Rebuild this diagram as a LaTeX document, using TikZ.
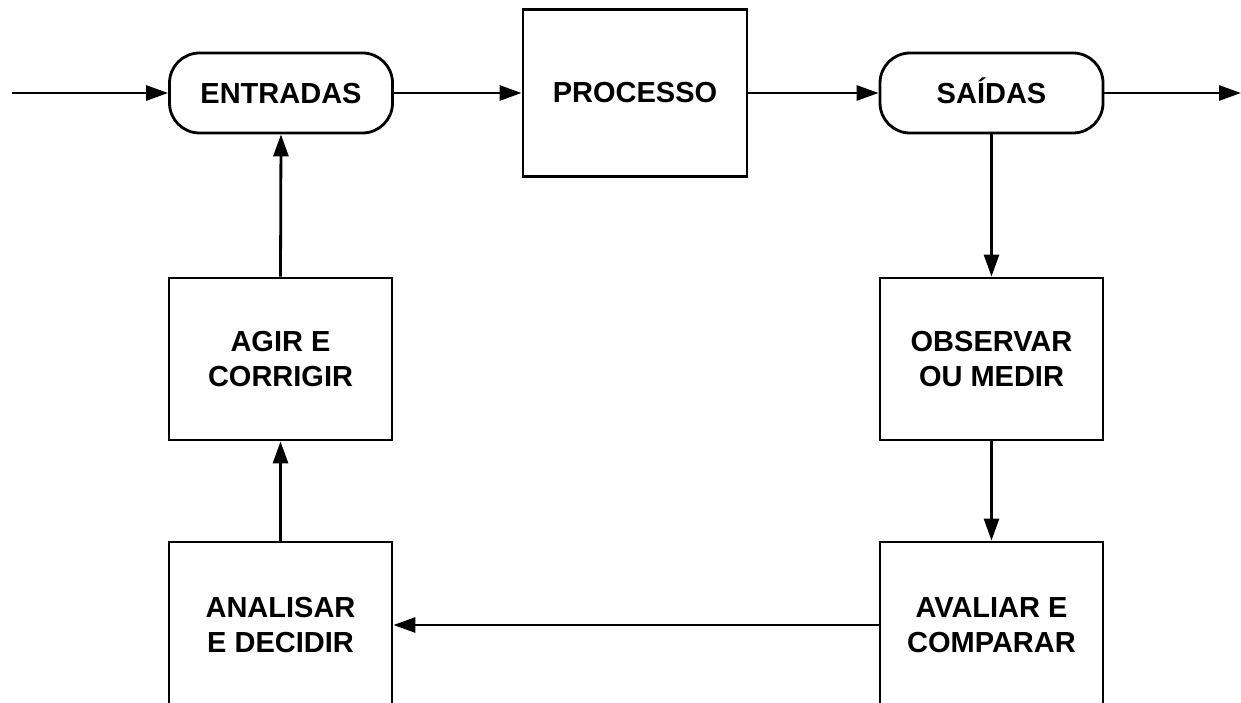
\documentclass[tikz,border=0pt]{standalone}
\usepackage{fontspec}
\setmainfont{Liberation Sans}
\usetikzlibrary{arrows.meta}
\tikzset{
  blockbox/.style={draw, line width=2.8pt, align=center, minimum width=223pt, inner sep=0pt,
    font=\fontsize{29}{35}\selectfont\bfseries},
  termbox/.style={blockbox, rounded corners=30pt, minimum height=80pt, text height=21pt, text depth=0pt},
  conn/.style={line width=2.8pt, -{Triangle[length=22pt,width=15pt]}},
}
\begin{document}
\begin{tikzpicture}[x=1pt,y=-1pt]
\useasboundingbox (0,0) rectangle (1241,703);
\clip (0,0) rectangle (1241,703);
\fill[white] (0,0) rectangle (1241,703);
\node[termbox] (entradas) at (281,93) {ENTRADAS};
\node[blockbox, minimum width=224pt, minimum height=167pt] (processo) at (635,93) {PROCESSO};
\node[termbox] (saidas) at (991.5,93) {SAÍDAS};
\node[blockbox, minimum height=162pt] (observar) at (991.5,359) {OBSERVAR\\OU MEDIR};
\node[blockbox, minimum height=166pt] (avaliar) at (991.5,625) {AVALIAR E\\COMPARAR};
\node[blockbox, minimum height=166pt] (analisar) at (280.5,625) {ANALISAR\\E DECIDIR};
\node[blockbox, minimum height=162pt] (agir) at (280.5,359) {AGIR E\\CORRIGIR};
\coordinate (in) at (12,93);
\coordinate (out) at (1241,93);
\draw[conn] (in) -- (entradas.west);
\draw[conn] (entradas.east) -- (processo.west);
\draw[conn] (processo.east) -- (saidas.west);
\draw[conn] (saidas.east) -- (out);
\draw[conn] (saidas.south) -- (observar.north);
\draw[conn] (observar.south) -- (avaliar.north);
\draw[conn] (avaliar.west) -- (analisar.east);
\draw[conn] (analisar.north) -- (agir.south);
\draw[conn] (agir.north) -- (entradas.south);
\end{tikzpicture}
\end{document}
